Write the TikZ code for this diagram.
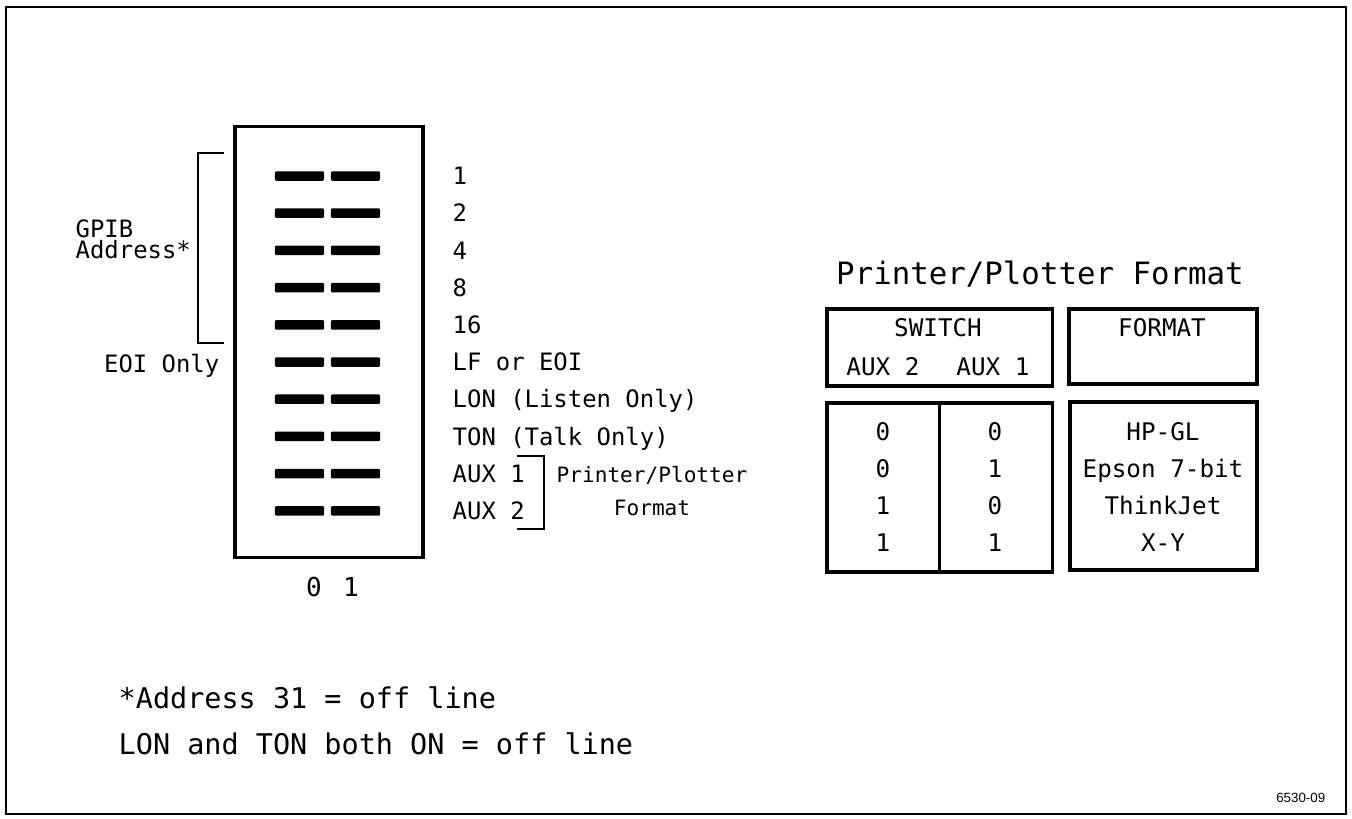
\documentclass[tikz,border=0pt]{standalone}
\usepackage{fontspec}
\setmonofont{DejaVu Sans Mono}
\newfontfamily\figfont{Liberation Sans}
\usepackage{tikz}
\usetikzlibrary{positioning}

\begin{document}
\begin{tikzpicture}[x=0.01cm,y=-0.01cm,
  every node/.style={inner sep=0pt,text depth=0pt},
  box/.style={draw,line width=0.9pt},
  bar/.style={fill=black,rounded corners=0.3pt,minimum width=4.9mm,minimum height=0.95mm},
  lbl/.style={font=\ttfamily\fontsize{6.8}{8}\selectfont,text height=1.75mm},
  cell/.style={font=\ttfamily\fontsize{6.9}{8}\selectfont,text height=1.75mm},
  tiny/.style={font=\ttfamily\fontsize{6}{7}\selectfont,text height=1.55mm},
  note/.style={font=\ttfamily\fontsize{8.1}{10}\selectfont,text height=2.05mm,anchor=west},
  brace/.style={line width=0.45pt}]
\useasboundingbox (0,0) rectangle (1352,818);
\draw[line width=0.6pt] (6,7) rectangle (1346,814);

% switch block
\node[box,minimum width=1.88cm,minimum height=4.3cm] (sw) at (329,342) {};
\foreach \lab [count=\i from 0] in {1,2,4,8,16,LF or EOI,LON (Listen Only),TON (Talk Only),AUX 1,AUX 2}{
  \node[bar] (off\i) at (299.5,{176+37.2*\i}) {};
  \node[bar] (on\i) at (355.5,{176+37.2*\i}) {};
  \node[lbl,anchor=west] (sl\i) at (452,{176+37.2*\i}) {\lab};
}
\node[lbl,font=\ttfamily\fontsize{7.4}{9}\selectfont,text height=1.9mm] (zero) at (314,587) {0};
\node[lbl,font=\ttfamily\fontsize{7.4}{9}\selectfont,text height=1.9mm] (one) at (351,587) {1};

% left side
\draw[brace] (224,153) -- (198,153) -- (198,343) -- (224,343);
\node[lbl,anchor=west] (gpib) at (75,229) {GPIB};
\node[lbl,anchor=west] (addr) at (75,250) {Address*};
\node[lbl,anchor=east] (eoi) at (220,364) {EOI Only};

% aux bracket
\draw[brace] (517,456) -- (544,456) -- (544,529) -- (517,529);
\node[tiny] (pp) at (652,475) {Printer/Plotter};
\node[tiny] (ppf) at (652,508) {Format};

% format table
\node[lbl,font=\ttfamily\fontsize{8.75}{10}\selectfont,text height=2.25mm] (ttl) at (1040,273) {Printer/Plotter Format};
\node[box,minimum width=2.25cm,minimum height=0.77cm] (swhead) at (939.5,347.5) {};
\node[box,minimum width=1.88cm,minimum height=0.75cm] (fmhead) at (1163,346.5) {};
\node[cell] (swt) at (938,328) {SWITCH};
\node[cell] (aux2) at (883,367) {AUX 2};
\node[cell] (aux1) at (993,367) {AUX 1};
\node[cell] (fmt) at (1162,328) {FORMAT};
\node[box,minimum width=2.25cm,minimum height=1.69cm] (swdata) at (939.5,487.5) {};
\draw[line width=0.9pt] (swdata.north) -- (swdata.south);
\node[box,minimum width=1.87cm,minimum height=1.68cm] (fmdata) at (1163.5,486) {};
\foreach \a/\b/\f [count=\i from 0] in {0/0/HP-GL,0/1/Epson 7-bit,1/0/ThinkJet,1/1/X-Y}{
  \node[cell] (va\i) at (883,{432+37*\i}) {\a};
  \node[cell] (vb\i) at (995,{432+37*\i}) {\b};
  \node[cell] (vf\i) at (1163,{432+37*\i}) {\f};
}

% notes
\node[note] (n1) at (118,698) {*Address 31 = off line};
\node[note] (n2) at (118,744) {LON and TON both ON = off line};
\node[font=\figfont\fontsize{3.8}{4}\selectfont,anchor=east] (fig) at (1326,798) {6530-09};
\end{tikzpicture}
\end{document}
